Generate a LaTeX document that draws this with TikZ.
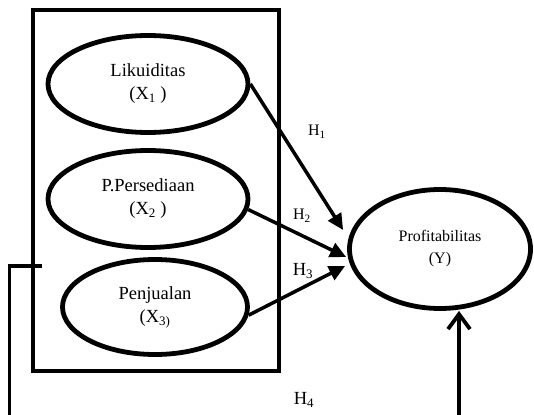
\documentclass[tikz,border=0pt]{standalone}
\usepackage{fontspec}
\setmainfont{Liberation Serif}
\usetikzlibrary{shapes.geometric}
\usetikzlibrary{arrows.meta}
\usetikzlibrary{positioning}

\tikzset{
  latent/.style={draw, ellipse, line width=4.8pt, align=center, inner sep=0pt,
    font=\fontsize{18.5}{23}\selectfont},
  hyparrow/.style={line width=3.5pt, -{Triangle[length=16pt,width=15pt]}},
  hsmall/.style={font=\fontsize{16}{18}\selectfont, inner sep=0pt},
  hlarge/.style={font=\fontsize{18.5}{20}\selectfont, inner sep=0pt},
}

\begin{document}
\begin{tikzpicture}[x=1pt, y=-1pt]
    \useasboundingbox (0,0) rectangle (534,414);

    % frame round the three independent variables
    \node[draw, line width=3.8pt, minimum width=246pt, minimum height=361pt] (frame) at (156,190.5) {};

    \node[latent, minimum width=200pt, minimum height=97pt] (x1) at (148,84) {Likuiditas\\(X\textsubscript{1} )};
    \node[latent, minimum width=200pt, minimum height=97pt] (x2) at (148,199) {P.Persediaan\\(X\textsubscript{2} )};
    \node[latent, minimum width=185pt, minimum height=95pt] (x3) at (155,307) {Penjualan\\(X\textsubscript{3)}};
    \node[latent, minimum width=181pt, minimum height=119pt, font=\fontsize{16}{22}\selectfont] (y) at (440,249) {Profitabilitas\\(Y)};

    \draw[hyparrow] (x1.east) -- ([shift={(-4,-19)}]y.west);
    \draw[hyparrow] (x2.-6) -- ([shift={(-1,8)}]y.west);
    \draw[hyparrow] (x3.-5) -- ([shift={(-2,17)}]y.west);

    \node[hsmall] (h1) at (317,132) {H\textsubscript{1}};
    \node[hsmall] (h2) at (302,216) {H\textsubscript{2}};
    \node[hlarge] (h3) at (303,271) {H\textsubscript{3}};
    \node[hlarge] (h4) at (304,400) {H\textsubscript{4}};

    % simultaneous path H4
    \coordinate (h4start) at (42,266);
    \coordinate (h4corner) at (9.5,266);
    \coordinate (h4end) at (9.5,416);
    \coordinate (h4foot) at (459,416);
    \draw[line width=3.8pt] (h4start) -- (h4corner) -- (h4end);
    \draw[line width=3.8pt, -{Straight Barb[length=15pt,width=22pt]}] (h4foot) -- (h4foot |- y.south);
\end{tikzpicture}
\end{document}
